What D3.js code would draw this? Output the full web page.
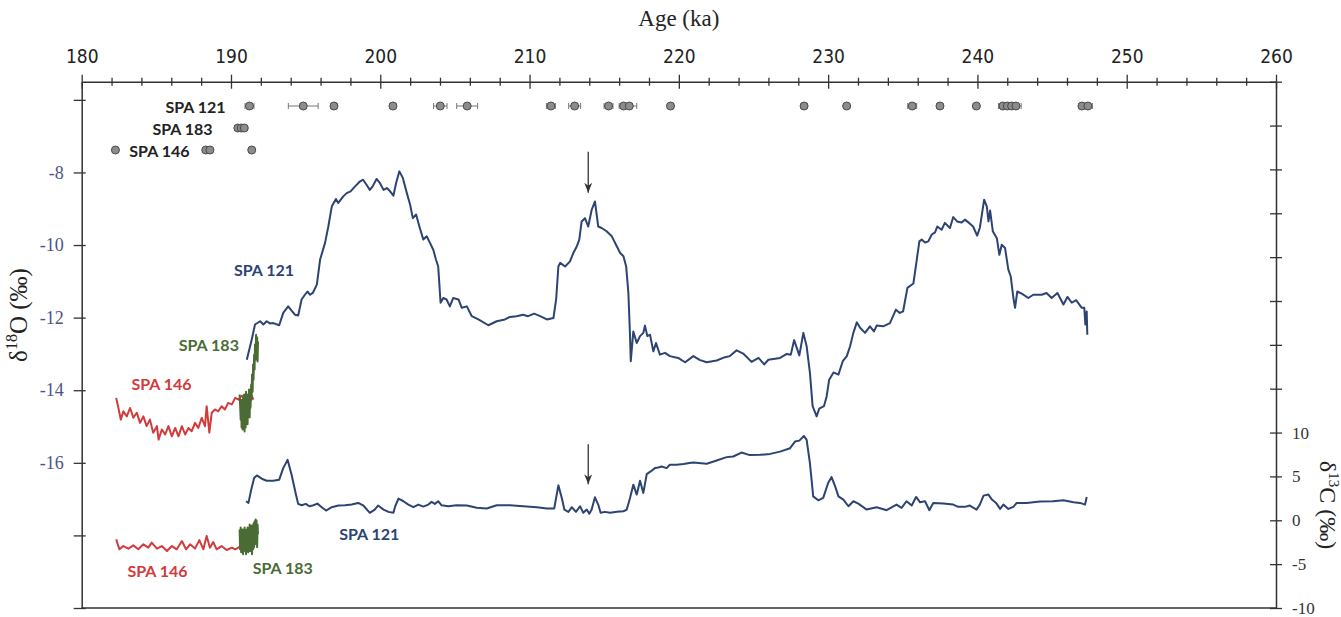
<!DOCTYPE html>
<html>
<head>
<meta charset="utf-8">
<script src="https://cdnjs.cloudflare.com/ajax/libs/d3/7.8.5/d3.min.js"></script>
<style>
  body { margin: 0; background: #fff; }
  svg { display: block; background: #fff; }
</style>
</head>
<body>
<svg id="chart" width="1341" height="617"></svg>
<script>
// ---- data: [age (ka), value] ----

// SPA 121 d18O
var spa121_d18O = [[191.06,-13.16],[191.39,-12.60],[191.61,-12.19],[191.95,-12.10],[192.17,-12.19],[192.39,-12.10],[192.61,-12.16],[192.83,-12.15],[193.23,-12.21],[193.50,-11.87],[193.83,-11.69],[194.28,-11.92],[194.50,-11.94],[194.73,-11.50],[194.95,-11.37],[195.12,-11.28],[195.30,-11.37],[195.48,-11.32],[195.75,-11.09],[195.97,-10.40],[196.30,-9.94],[196.52,-9.49],[196.75,-8.94],[197.03,-8.73],[197.19,-8.84],[197.52,-8.66],[197.75,-8.57],[198.01,-8.52],[198.30,-8.39],[198.63,-8.25],[198.85,-8.20],[199.08,-8.34],[199.30,-8.48],[199.48,-8.39],[199.75,-8.18],[199.97,-8.29],[200.22,-8.48],[200.44,-8.43],[200.66,-8.52],[200.88,-8.64],[201.06,-8.29],[201.28,-7.97],[201.51,-8.15],[201.78,-8.57],[202.00,-8.89],[202.18,-9.26],[202.40,-9.16],[202.62,-9.49],[202.88,-9.85],[203.11,-9.76],[203.33,-9.94],[203.55,-10.13],[203.73,-10.40],[203.88,-10.59],[204.04,-11.59],[204.22,-11.46],[204.44,-11.50],[204.66,-11.69],[204.88,-11.46],[205.24,-11.50],[205.46,-11.73],[205.80,-11.69],[206.13,-11.96],[206.57,-12.05],[207.24,-12.21],[207.80,-12.10],[208.35,-12.05],[208.68,-11.98],[209.13,-11.96],[209.57,-11.92],[209.90,-11.96],[210.31,-11.89],[210.71,-11.96],[211.16,-12.05],[211.60,-12.01],[211.78,-11.50],[211.93,-10.59],[212.05,-10.49],[212.38,-10.59],[212.71,-10.45],[212.93,-10.22],[213.16,-10.04],[213.33,-9.85],[213.49,-9.35],[213.71,-9.26],[213.93,-9.49],[214.16,-9.03],[214.38,-8.80],[214.60,-9.49],[214.83,-9.53],[215.16,-9.62],[215.51,-9.76],[215.85,-10.04],[216.07,-10.22],[216.29,-10.31],[216.47,-10.59],[216.62,-11.32],[216.73,-12.51],[216.78,-13.20],[216.95,-12.38],[217.18,-12.70],[217.40,-12.51],[217.62,-12.42],[217.73,-12.22],[217.89,-12.51],[218.07,-12.47],[218.29,-12.93],[218.47,-12.70],[218.73,-13.02],[219.07,-12.97],[219.40,-13.06],[219.95,-13.11],[220.42,-13.23],[220.97,-13.06],[221.42,-13.17],[221.87,-13.23],[222.53,-13.18],[223.09,-13.09],[223.42,-13.06],[223.87,-12.90],[224.31,-12.99],[224.87,-13.22],[225.34,-13.11],[225.72,-13.29],[226.00,-13.16],[226.78,-13.11],[227.23,-13.00],[227.50,-13.02],[227.72,-12.62],[228.07,-13.04],[228.34,-12.42],[228.56,-12.79],[228.78,-13.52],[228.96,-14.44],[229.23,-14.72],[229.40,-14.51],[229.72,-14.44],[229.90,-14.17],[230.07,-13.71],[230.36,-13.51],[230.69,-13.57],[230.98,-13.20],[231.25,-13.06],[231.47,-12.79],[231.69,-12.42],[231.92,-12.13],[232.14,-12.28],[232.47,-12.42],[232.80,-12.24],[233.07,-12.38],[233.25,-12.22],[233.69,-12.24],[234.14,-12.15],[234.54,-11.78],[234.80,-11.87],[235.02,-11.83],[235.31,-11.18],[235.71,-11.06],[235.94,-10.40],[236.11,-9.90],[236.27,-9.85],[236.49,-9.93],[236.71,-9.90],[236.94,-9.71],[237.16,-9.65],[237.31,-9.49],[237.60,-9.58],[237.82,-9.39],[238.16,-9.53],[238.38,-9.23],[238.64,-9.35],[238.94,-9.38],[239.16,-9.30],[239.44,-9.39],[239.71,-9.49],[239.98,-9.74],[240.16,-9.53],[240.45,-8.75],[240.63,-8.94],[240.74,-9.35],[240.85,-9.05],[241.03,-9.62],[241.30,-9.81],[241.47,-10.27],[241.63,-9.99],[241.85,-10.08],[242.07,-10.68],[242.23,-10.86],[242.41,-11.46],[242.52,-11.73],[242.67,-11.28],[242.97,-11.34],[243.41,-11.46],[243.74,-11.37],[244.30,-11.37],[244.63,-11.32],[244.97,-11.46],[245.36,-11.32],[245.76,-11.64],[246.03,-11.43],[246.32,-11.59],[246.61,-11.52],[246.99,-11.73],[247.16,-11.73],[247.23,-12.19],[247.32,-11.83],[247.36,-12.47]];

// SPA 121 d13C
var spa121_d13C = [[191.01,2.17],[191.17,1.98],[191.33,3.30],[191.55,4.82],[191.73,5.11],[192.06,4.74],[192.39,4.51],[192.83,4.51],[193.23,4.63],[193.50,5.95],[193.79,6.89],[194.06,5.19],[194.35,2.93],[194.50,1.87],[194.73,1.71],[195.01,1.87],[195.25,1.60],[195.52,1.71],[195.79,1.90],[196.08,1.49],[196.37,1.11],[196.75,1.49],[197.19,1.68],[197.63,1.71],[198.08,1.79],[198.52,1.98],[198.85,1.71],[199.30,0.85],[199.63,1.22],[199.85,1.68],[200.22,1.22],[200.55,0.96],[200.88,0.85],[201.00,1.60],[201.22,2.47],[201.55,2.17],[201.88,1.79],[202.22,1.49],[202.55,1.79],[202.88,1.56],[203.22,1.79],[203.44,2.10],[203.66,1.87],[203.88,2.17],[204.11,1.71],[204.55,1.60],[205.11,1.71],[205.80,1.68],[206.46,1.42],[207.13,1.34],[207.80,1.71],[208.68,1.71],[209.57,1.60],[210.49,1.49],[211.16,1.34],[211.65,1.34],[211.93,3.98],[212.16,2.55],[212.33,1.22],[212.60,0.96],[212.83,1.49],[213.11,0.96],[213.38,1.60],[213.60,0.85],[213.83,1.22],[214.00,0.74],[214.16,1.22],[214.38,2.62],[214.60,1.79],[214.76,0.85],[215.05,0.96],[215.40,0.85],[215.85,0.96],[216.29,1.03],[216.51,1.22],[216.73,2.55],[216.95,4.06],[217.18,2.93],[217.40,4.51],[217.62,3.12],[217.85,5.27],[218.11,5.57],[218.40,5.95],[218.62,6.02],[218.85,6.13],[219.18,5.95],[219.40,6.33],[219.85,6.33],[220.31,6.41],[220.71,6.52],[220.97,6.59],[221.87,6.44],[222.53,6.81],[223.20,7.20],[223.64,7.27],[224.20,7.72],[224.75,7.43],[225.45,7.46],[226.12,7.57],[226.78,7.83],[227.45,8.22],[227.78,8.97],[228.07,9.08],[228.38,9.61],[228.56,9.16],[228.78,6.52],[229.00,2.73],[229.34,2.28],[229.67,2.55],[230.00,4.25],[230.23,4.93],[230.47,3.87],[230.69,2.73],[231.02,2.36],[231.36,1.60],[231.69,2.17],[232.02,1.90],[232.58,1.22],[233.25,1.49],[233.92,1.15],[234.58,1.79],[234.92,1.42],[235.25,2.17],[235.60,1.68],[235.89,2.66],[236.16,2.05],[236.49,2.17],[236.78,1.15],[237.04,1.98],[237.71,1.90],[238.38,1.79],[238.71,1.53],[239.16,1.53],[239.49,1.68],[239.94,1.22],[240.16,1.79],[240.41,2.81],[240.74,2.93],[240.97,2.36],[241.25,1.98],[241.52,1.30],[241.74,1.79],[242.07,1.30],[242.41,1.53],[242.63,1.98],[243.30,1.98],[244.19,2.13],[245.07,2.17],[245.76,2.28],[246.43,2.05],[246.87,1.98],[247.21,1.79],[247.32,2.66]];

// SPA 146 d18O and d13C
var spa146_d18O = [[182.31,-14.21],[182.46,-14.49],[182.62,-14.81],[182.79,-14.58],[183.02,-14.72],[183.24,-14.49],[183.46,-14.76],[183.69,-14.62],[183.91,-14.90],[184.13,-14.72],[184.35,-14.99],[184.57,-14.81],[184.79,-15.17],[185.04,-14.99],[185.15,-15.36],[185.37,-15.08],[185.59,-15.22],[185.81,-14.99],[186.04,-15.27],[186.26,-15.04],[186.48,-15.27],[186.71,-14.99],[186.93,-15.22],[187.15,-15.04],[187.37,-15.13],[187.59,-14.90],[187.81,-15.04],[188.04,-14.76],[188.26,-14.99],[188.37,-14.44],[188.55,-15.17],[188.71,-14.62],[188.93,-14.53],[189.15,-14.58],[189.37,-14.44],[189.59,-14.53],[189.81,-14.35],[190.06,-14.39],[190.28,-14.21],[190.50,-14.26],[190.73,-14.15],[191.06,-14.24],[191.39,-14.15],[191.50,-14.26]];
var spa146_d13C = [[182.31,-2.18],[182.53,-3.31],[182.79,-2.94],[183.13,-3.23],[183.46,-2.86],[183.79,-3.31],[184.13,-2.74],[184.46,-3.12],[184.69,-2.55],[185.04,-3.23],[185.37,-2.94],[185.71,-3.50],[186.04,-2.94],[186.37,-3.31],[186.71,-2.37],[186.99,-3.31],[187.26,-2.74],[187.59,-3.23],[187.88,-2.26],[188.15,-3.31],[188.37,-1.80],[188.59,-3.12],[188.81,-2.48],[189.04,-3.31],[189.37,-2.94],[189.71,-3.39],[190.06,-3.12],[190.28,-3.31],[190.50,-3.12],[190.73,-2.74]];

// SPA 183 d18O and d13C
var spa183_d18O = [[190.58,-14.12],[190.65,-14.81],[190.68,-14.26],[190.71,-15.03],[190.75,-14.39],[190.78,-15.08],[190.81,-14.20],[190.85,-14.94],[190.88,-14.12],[190.91,-15.14],[190.95,-14.39],[190.98,-15.03],[191.01,-14.04],[191.05,-14.81],[191.08,-14.12],[191.11,-14.94],[191.15,-14.20],[191.18,-14.67],[191.21,-13.98],[191.25,-14.75],[191.28,-14.04],[191.31,-14.48],[191.35,-13.84],[191.38,-14.26],[191.41,-13.57],[191.45,-14.04],[191.48,-13.29],[191.51,-13.71],[191.55,-13.02],[191.58,-13.43],[191.61,-12.74],[191.65,-13.16],[191.68,-12.47],[191.71,-12.88],[191.75,-12.55],[191.78,-13.21],[191.81,-12.66]];
var spa183_d13C = [[190.58,-1.04],[190.61,-3.31],[190.65,-0.82],[190.68,-3.65],[190.71,-1.27],[190.75,-3.08],[190.78,-1.04],[190.81,-3.88],[190.85,-1.61],[190.88,-3.31],[190.91,-0.82],[190.95,-3.54],[190.98,-1.38],[191.01,-3.88],[191.05,-1.04],[191.08,-3.08],[191.11,-0.82],[191.15,-3.65],[191.18,-1.04],[191.21,-2.74],[191.25,-0.48],[191.28,-3.54],[191.31,-0.70],[191.35,-3.08],[191.38,-0.59],[191.41,-3.88],[191.45,-1.04],[191.48,-3.31],[191.51,-0.36],[191.55,-3.08],[191.58,-0.14],[191.61,-2.74],[191.65,0.09],[191.68,-2.18],[191.71,-0.02],[191.75,-3.08],[191.78,-0.48],[191.81,-1.61]];

// U-Th dates (ka) and 2-sigma errors
var datingRows = ["SPA 121", "SPA 183", "SPA 146"];
var dating121 = [191.24,194.84,196.90,200.85,204.02,205.82,211.43,213.02,215.29,216.30,216.68,219.44,228.39,231.24,235.63,237.49,239.93,241.71,242.00,242.29,242.58,247.00,247.40];
var dating121Err = [0.3,1.0,0.2,0.2,0.45,0.7,0.3,0.4,0.3,0.3,0.5,0.2,0.2,0.2,0.3,0.2,0.2,0.3,0.2,0.2,0.35,0.2,0.3];
var dating183 = [190.46,190.69,190.89];
var dating146 = [182.26,188.31,188.59,191.39];

// axis ticks
var ageTicks = d3.range(180, 261, 2);
var d18OTicks = d3.range(-20, -5, 2);
var d18OLabels = [-16, -14, -12, -10, -8];
var d13CTicks = d3.range(-10, 51, 5);
var d13CLabels = [-10, -5, 0, 5, 10];

// arrows marking the same event in both records
var arrowAge = 213.93;
var arrowD18O = [-7.43, -8.56];
var arrowD13C = [8.66, 4.11];

// ---- drawing ----
var svg = d3.select("#chart");
var pLeft = 81.7, pRight = 1276, pTop = 81.7, pBottom = 608;

var x = d3.scaleLinear().domain([180, 260]).range([pLeft, pRight]);
var y18 = d3.scaleLinear().domain([-20, -5.5]).range([pBottom, pTop]);
var y13 = d3.scaleLinear().domain([-10, 50]).range([pBottom, pTop]);

var axisColor = "#333";
var serif = "'Liberation Serif', 'DejaVu Serif', serif";
var bold = "Lato, 'Open Sans', sans-serif";

// top (age) axis
var gTop = svg.append("g").attr("transform", "translate(0," + pTop + ")")
  .call(d3.axisTop(x).tickValues(ageTicks).tickSizeOuter(0).tickSize(0)
    .tickFormat(function(d){ return d % 10 === 0 ? d : ""; }));
gTop.select(".domain").attr("stroke", axisColor).attr("stroke-width", 1.5);
gTop.selectAll(".tick line")
  .attr("stroke", axisColor).attr("stroke-width", 1.3)
  .attr("y1", function(d){ return d % 10 === 0 ? 7 : 4; })
  .attr("y2", function(d){ return d % 10 === 0 ? -7 : -4; });
gTop.selectAll(".tick text")
  .attr("y", -19)
  .attr("font-family", "'Liberation Sans Narrow', 'DejaVu Sans Condensed', Roboto, sans-serif")
  .attr("font-size", 19).attr("fill", "#222");

svg.append("text")
  .attr("x", (pLeft + pRight) / 2).attr("y", 26)
  .attr("text-anchor", "middle")
  .attr("font-family", serif).attr("font-size", 23).attr("fill", "#222")
  .text("Age (ka)");

// left (d18O) axis
var gLeft = svg.append("g").attr("transform", "translate(" + pLeft + ",0)")
  .call(d3.axisLeft(y18).tickValues(d18OTicks).tickSizeOuter(0).tickSize(0)
    .tickFormat(function(d){ return d18OLabels.indexOf(d) >= 0 ? d : ""; }));
gLeft.select(".domain").attr("stroke", axisColor).attr("stroke-width", 1.5);
gLeft.selectAll(".tick line")
  .attr("stroke", axisColor).attr("stroke-width", 1.3)
  .attr("x1", -8).attr("x2", 4);
gLeft.selectAll(".tick text")
  .attr("x", -18)
  .attr("font-family", serif).attr("font-size", 18).attr("fill", "#4a5488");

var t18 = svg.append("text")
  .attr("transform", "translate(27,315) rotate(-90)")
  .attr("text-anchor", "middle")
  .attr("font-family", serif).attr("font-size", 25).attr("fill", "#222");
t18.append("tspan").text("δ");
t18.append("tspan").attr("font-size", 16).attr("dy", -10).text("18");
t18.append("tspan").attr("dy", 10).text("O (‰)");

// right (d13C) axis
var gRight = svg.append("g").attr("transform", "translate(" + pRight + ",0)")
  .call(d3.axisRight(y13).tickValues(d13CTicks).tickSizeOuter(0).tickSize(0)
    .tickFormat(function(d){ return d13CLabels.indexOf(d) >= 0 ? d : ""; }));
gRight.select(".domain").attr("stroke", axisColor).attr("stroke-width", 1.5);
gRight.selectAll(".tick line")
  .attr("stroke", axisColor).attr("stroke-width", 1.3)
  .attr("x1", -6).attr("x2", 6);
gRight.selectAll(".tick text")
  .attr("x", 16)
  .attr("font-family", serif).attr("font-size", 17).attr("fill", "#333");

var t13 = svg.append("text")
  .attr("transform", "translate(1320,505) rotate(90)")
  .attr("text-anchor", "middle")
  .attr("font-family", serif).attr("font-size", 24).attr("fill", "#222");
t13.append("tspan").text("δ");
t13.append("tspan").attr("font-size", 15).attr("dy", -9).text("13");
t13.append("tspan").attr("dy", 9).text("C (‰)");

// bottom frame line
svg.append("line")
  .attr("x1", x(180)).attr("x2", x(260))
  .attr("y1", y18(-20)).attr("y2", y18(-20))
  .attr("stroke", axisColor).attr("stroke-width", 1.5);

// ---- records ----
var line18 = d3.line().x(function(d){ return x(d[0]); }).y(function(d){ return y18(d[1]); });
var line13 = d3.line().x(function(d){ return x(d[0]); }).y(function(d){ return y13(d[1]); });

var blue = "#2d4373", red = "#d23a3c", green = "#4a6b33";

function drawLine(data, gen, color) {
  svg.append("path")
    .datum(data)
    .attr("d", gen)
    .attr("fill", "none")
    .attr("stroke", color)
    .attr("stroke-width", 2)
    .attr("stroke-linejoin", "round");
}

drawLine(spa146_d18O, line18, red);
drawLine(spa146_d13C, line13, red);
drawLine(spa183_d18O, line18, green);
drawLine(spa183_d13C, line13, green);
drawLine(spa121_d18O, line18, blue);
drawLine(spa121_d13C, line13, blue);

// series labels
var seriesLabels = [
  {text: "SPA 121", age: 190.2,  v: -10.68, scale: y18, color: blue},
  {text: "SPA 183", age: 186.5,  v: -12.74, scale: y18, color: green},
  {text: "SPA 146", age: 183.33, v: -13.82, scale: y18, color: red},
  {text: "SPA 121", age: 197.25, v: -1.47,  scale: y13, color: blue},
  {text: "SPA 146", age: 183.06, v: -5.73,  scale: y13, color: red},
  {text: "SPA 183", age: 191.45, v: -5.34,  scale: y13, color: green}
];
seriesLabels.forEach(function(l){
  svg.append("text")
    .attr("x", x(l.age)).attr("y", l.scale(l.v))
    .attr("dominant-baseline", "central")
    .attr("font-family", bold).attr("font-weight", "bold").attr("font-size", 16)
    .attr("fill", l.color)
    .text(l.text);
});

// arrows
svg.append("defs").append("marker")
  .attr("id", "head")
  .attr("markerUnits", "userSpaceOnUse")
  .attr("markerWidth", 10).attr("markerHeight", 8)
  .attr("refX", 10).attr("refY", 4)
  .attr("orient", "auto")
  .append("path").attr("d", "M0,0 L10,4 L0,8 L3,4 Z").attr("fill", "#333");

[[y18, arrowD18O], [y13, arrowD13C]].forEach(function(a){
  svg.append("line")
    .attr("x1", x(arrowAge)).attr("x2", x(arrowAge))
    .attr("y1", a[0](a[1][0])).attr("y2", a[0](a[1][1]))
    .attr("stroke", "#333").attr("stroke-width", 1.3)
    .attr("marker-end", "url(#head)");
});

// ---- dating rows ----
var yRow = d3.scalePoint().domain(datingRows).range([106, 150]);

var rowData = [
  {name: "SPA 121", ages: dating121, err: dating121Err, labelAge: 189.64, anchor: "end"},
  {name: "SPA 183", ages: dating183, err: null, labelAge: 188.77, anchor: "end"},
  {name: "SPA 146", ages: dating146, err: null, labelAge: 183.19, anchor: "start"}
];

rowData.forEach(function(r){
  var cy = yRow(r.name);
  var g = svg.append("g");
  if (r.err) {
    var bars = g.selectAll("g.err").data(r.ages.map(function(a, i){ return [a, r.err[i]]; }))
      .enter().append("g").attr("class", "err");
    bars.append("line")
      .attr("x1", function(d){ return x(d[0] - d[1]); })
      .attr("x2", function(d){ return x(d[0] + d[1]); })
      .attr("y1", cy).attr("y2", cy)
      .attr("stroke", "#777").attr("stroke-width", 1);
    [-1, 1].forEach(function(s){
      bars.append("line")
        .attr("x1", function(d){ return x(d[0] + s * d[1]); })
        .attr("x2", function(d){ return x(d[0] + s * d[1]); })
        .attr("y1", cy - 3).attr("y2", cy + 3)
        .attr("stroke", "#777").attr("stroke-width", 1);
    });
  }
  g.selectAll("circle").data(r.ages).enter().append("circle")
    .attr("cx", function(d){ return x(d); })
    .attr("cy", cy)
    .attr("r", 4)
    .attr("fill", "#8c8c8c")
    .attr("stroke", "#4a4a4a")
    .attr("stroke-width", 1);
  g.append("text")
    .attr("x", x(r.labelAge)).attr("y", cy)
    .attr("text-anchor", r.anchor)
    .attr("dominant-baseline", "central")
    .attr("font-family", bold).attr("font-weight", "bold").attr("font-size", 16)
    .attr("fill", "#222")
    .text(r.name);
});
</script>
</body>
</html>
